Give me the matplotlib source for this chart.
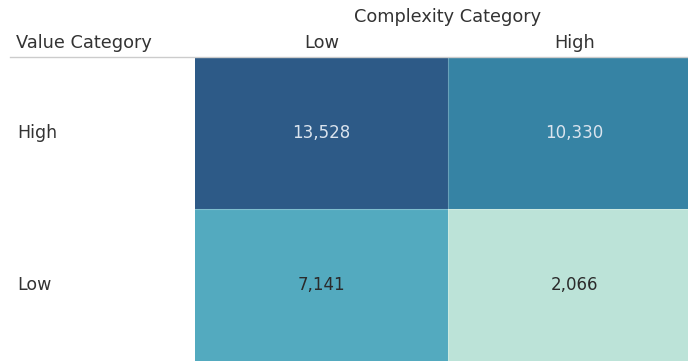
import matplotlib.pyplot as plt
import numpy as np
from matplotlib.colors import LinearSegmentedColormap, Normalize
from matplotlib.lines import Line2D

# data
complexity = ["Low", "High"]
value_rows = ["High", "Low"]
counts = [[13528, 10330],
          [7141, 2066]]

plt.rcParams['font.family'] = ['DejaVu Sans']

W, H = 688, 361
fig = plt.figure(figsize=(W / 100, H / 100), dpi=100)

def fx(px): return px / W
def fy(py): return 1 - py / H

# cell area (right column runs past the image edge, as in the original view)
x0, x1 = 195, 701
y0, y1 = 57, 361
ax = fig.add_axes([fx(x0), fy(y1), fx(x1) - fx(x0), fy(y0) - fy(y1)])

arr = np.array(counts, dtype=float)
cmap = LinearSegmentedColormap.from_list(
    "blueteal", [(0.0, "#bce3d8"), (0.443, "#53aabf"), (0.721, "#3683a4"), (1.0, "#2d5a87")])
norm = Normalize(vmin=arr.min(), vmax=arr.max())
ax.pcolormesh(np.arange(len(complexity) + 1), np.arange(len(value_rows) + 1), arr,
              cmap=cmap, norm=norm, linewidth=0)
for k in range(1, len(complexity)):
    ax.axvline(k, color="white", alpha=0.25, lw=0.8)
for k in range(1, len(value_rows)):
    ax.axhline(k, color="white", alpha=0.25, lw=0.8)
ax.set_xlim(0, len(complexity))
ax.set_ylim(len(value_rows), 0)
ax.axis("off")

for i, row in enumerate(counts):
    for j, v in enumerate(row):
        col = "#dbe4ee" if norm(v) > 0.6 else "#2b2b2b"
        ax.text(j + 0.5, i + 0.5, f"{v:,}", ha="center", va="center",
                fontsize=12, color=col)

# headers
txt = "#333333"
hfont = dict(fontsize=12.8, color=txt)
fig.text(fx(448), fy(17), "Complexity Category", ha="center", va="center", **hfont)
fig.text(fx(16), fy(43), "Value Category", ha="left", va="center", **hfont)
for j, c in enumerate(complexity):
    cx = x0 + (x1 - x0) * (j + 0.5) / len(complexity)
    fig.text(fx(cx), fy(43), c, ha="center", va="center", **hfont)
for i, r in enumerate(value_rows):
    cy = y0 + (y1 - y0) * (i + 0.5) / len(value_rows)
    fig.text(fx(17), fy(cy), r, ha="left", va="center", fontsize=12.5,
             fontweight="medium", color=txt)

fig.add_artist(Line2D([fx(10), 1], [fy(56.5), fy(56.5)], color="#cccccc", linewidth=1))

fig.savefig("out.png", dpi=100)
